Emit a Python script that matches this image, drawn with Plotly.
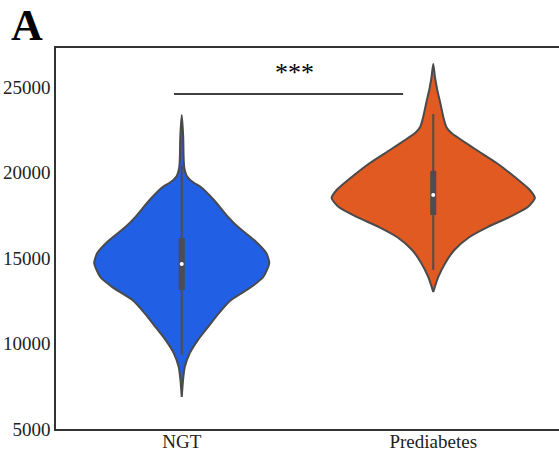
import plotly.graph_objects as go

# groupes et couleurs
groups = ["NGT", "Prediabetes"]
colors = ["#215FE5", "#E05A22"]
y_ticks = [5000, 10000, 15000, 20000, 25000]

# profils de densité (valeur, densité relative)
ngt_levels = [23360, 22000, 21000, 20300, 19800, 19400, 19150, 18390, 17400, 16810,
              16050, 15290, 14710, 13890, 13300, 12540, 11780, 10960, 10200, 9440,
              8630, 7870, 6870]
ngt_density = [0.0, 0.015, 0.018, 0.025, 0.05, 0.12, 0.19, 0.32, 0.46, 0.56,
               0.72, 0.84, 0.87, 0.81, 0.69, 0.49, 0.37, 0.26, 0.16, 0.08,
               0.03, 0.013, 0.0]

pre_levels = [26345, 25585, 24825, 24065, 23245, 22660, 22310, 21900, 21315, 20555,
              19735, 18975, 18510, 17980, 17400, 16810, 16230, 15470, 14710, 13890,
              13010]
pre_density = [0.0, 0.017, 0.04, 0.07, 0.10, 0.13, 0.18, 0.28, 0.43, 0.63,
               0.81, 0.96, 1.01, 0.94, 0.76, 0.54, 0.36, 0.21, 0.12, 0.05,
               0.0]

# statistiques de la boîte interne : whisker bas, q1, médiane, q3, whisker haut
ngt_box = [9330, 13130, 14650, 16170, 20400]
pre_box = [14300, 17515, 18680, 20090, 23420]

profiles = [(ngt_levels, ngt_density), (pre_levels, pre_density)]
boxes = [ngt_box, pre_box]

WIDTH = 0.4
fig = go.Figure()

for i, ((levels, dens), box, col) in enumerate(zip(profiles, boxes, colors)):
    xs = [i + d * WIDTH for d in dens] + [i - d * WIDTH for d in reversed(dens)]
    ys = list(levels) + list(reversed(levels))
    fig.add_trace(go.Scatter(
        x=xs, y=ys, mode="lines", fill="toself", fillcolor=col,
        line=dict(color="#4a4a4a", width=2, shape="spline", smoothing=0.6),
        hoverinfo="skip", showlegend=False,
    ))
    # whiskers
    fig.add_trace(go.Scatter(
        x=[i, i], y=[box[0], box[4]], mode="lines",
        line=dict(color="#4d4d4d", width=2), showlegend=False, hoverinfo="skip",
    ))
    # boîte épaisse q1-q3
    fig.add_trace(go.Scatter(
        x=[i, i], y=[box[1], box[3]], mode="lines",
        line=dict(color="#4d4d4d", width=6), showlegend=False, hoverinfo="skip",
    ))
    # médiane
    fig.add_trace(go.Scatter(
        x=[i], y=[box[2]], mode="markers",
        marker=dict(color="white", size=4), showlegend=False, hoverinfo="skip",
    ))

# barre de significativité
fig.add_shape(type="line", x0=-0.031, x1=0.88, y0=24590, y1=24590,
              line=dict(color="black", width=1.5))
fig.add_annotation(x=0.45, y=25850, text="***", showarrow=False,
                   font=dict(size=26, color="black", family="Liberation Serif"))

# lettre du panneau
fig.add_annotation(xref="paper", yref="paper", x=-0.094, y=1.0, xanchor="left", yanchor="bottom",
                   yshift=1, text="<b>A</b>", showarrow=False, height=40, valign="middle",
                   font=dict(size=44, color="black", family="Liberation Serif"))

fig.update_layout(
    width=559, height=456,
    margin=dict(l=56, r=0, t=48, b=27, autoexpand=False),
    plot_bgcolor="white", paper_bgcolor="white",
    font=dict(family="Liberation Serif", size=19, color="#222"),
)
fig.update_xaxes(
    range=[-0.5, 1.5], tickvals=[0, 1], ticktext=groups,
    showgrid=False, zeroline=False, showline=True, mirror=True,
    linecolor="#333", linewidth=1.5, ticks="", ticklabelstandoff=-6,
)
fig.update_yaxes(
    range=[5000, 27280], tickvals=y_ticks, ticktext=[str(v) for v in y_ticks],
    showgrid=False, zeroline=False, showline=True,
    linecolor="#333", linewidth=1.5, ticks="",
)

fig.write_html("out.html", config={"displayModeBar": False},
               post_script="document.body.style.margin='0';")
